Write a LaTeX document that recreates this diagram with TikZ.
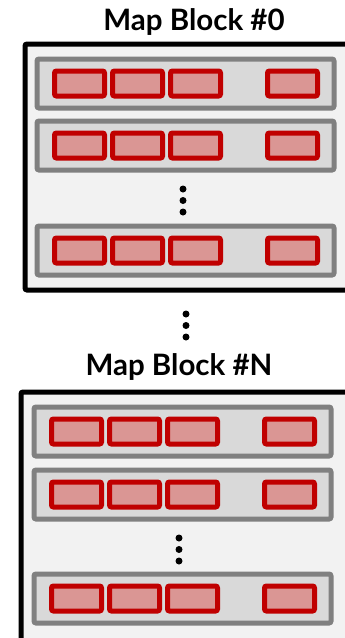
\documentclass[tikz,border=0pt]{standalone}
\usepackage{fontspec}
\setsansfont{Lato}
\usetikzlibrary{
    positioning % for placing the cells and dots relative to each other
}
\definecolor{cellred}{HTML}{C00000}
\definecolor{cellpink}{HTML}{DA9694}

\begin{document}
\begin{tikzpicture}[
        x=1pt,y=-1pt,node distance=58pt,on grid,
        title/.style = {font=\sffamily\bfseries\fontsize{29.5}{31}\selectfont,anchor=base,inner sep=0pt},
        block/.style = {draw=black,line width=5pt,fill=black!5,rounded corners=2pt,minimum width=347pt,inner sep=0pt,outer sep=0pt},
        row/.style   = {draw=black!50,line width=5pt,fill=black!15,rounded corners=2pt,minimum width=297pt,minimum height=49pt,inner sep=0pt,outer sep=0pt},
        cell/.style  = {draw=cellred,line width=5pt,fill=cellpink,rounded corners=2pt,minimum width=50pt,minimum height=25pt,inner sep=0pt},
        dot/.style   = {circle,fill=black,minimum size=7pt,inner sep=0pt}
    ]
    \useasboundingbox (0,0) rectangle (345,638);

    % first map block
        \node [title]                      (t0)   at (194,30)    {Map Block \#0};
        \node [block,minimum height=246pt] (blk0) at (198.5,167) {};
        \node [row] (r01) at (185.5,83.5)  {};
        \node [row] (r02) at (185.5,145.5) {};
        \node [row] (r03) at (185.5,250.5) {};
        \node [dot] (d02) at (183,200.5) {};
        \node [dot] (d01) [above=11.5pt of d02] {};
        \node [dot] (d03) [below=11.5pt of d02] {};

    % dots between the blocks
        \node [dot] (m2) at (186,325.5) {};
        \node [dot] (m1) [above=11.5pt of m2] {};
        \node [dot] (m3) [below=11.5pt of m2] {};

    % last map block
        \node [title]                      (tN)   at (179,375)   {Map Block \#N};
        \node [block,minimum height=254pt] (blkN) at (194.5,519) {};
        \node [row] (rN1) at (182.5,431.5) {};
        \node [row] (rN2) at (182.5,494.5) {};
        \node [row] (rN3) at (182.5,598.5) {};
        \node [dot] (dN2) at (179,549.5) {};
        \node [dot] (dN1) [above=11.5pt of dN2] {};
        \node [dot] (dN3) [below=11.5pt of dN2] {};

    % cells of every row
        \foreach \r in {r01,r02,r03,rN1,rN2,rN3} {
            \node [cell] (\r c1) at ([xshift=42.5pt]\r.west)  {};
            \node [cell] (\r c2) [right=of \r c1]             {};
            \node [cell] (\r c3) [right=of \r c2]             {};
            \node [cell] (\r c4) at ([xshift=-41.5pt]\r.east) {};
        }

\end{tikzpicture}
\end{document}
